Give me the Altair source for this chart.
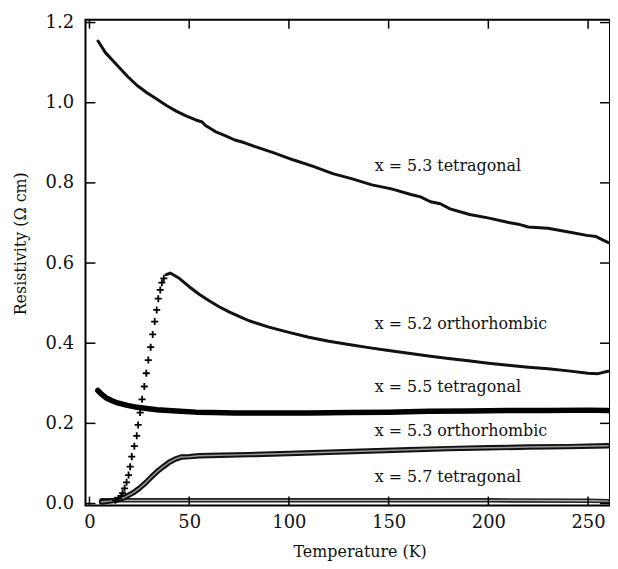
import altair as alt
import pandas as pd

FONT = "DejaVu Serif"

# x = 5.3 tetragonal
c1_T = [4.3, 8, 14.1, 19, 23.9, 28.8, 33.7, 38.6, 43.5, 48.4, 53.3, 56.5, 58, 63.1, 68, 72.9, 77.8, 82.7,
        92.5, 102.4, 112.2, 122, 131.8, 141.6, 151.4, 161.2, 166, 171, 175.9, 180.8, 190.6, 200.4,
        210.2, 215, 220, 229.8, 239.6, 249.4, 254, 257.3, 260.2]
c1_R = [1.154, 1.125, 1.092, 1.066, 1.043, 1.025, 1.009, 0.993, 0.979, 0.967, 0.957, 0.952, 0.944, 0.928,
        0.918, 0.907, 0.900, 0.891, 0.875, 0.857, 0.841, 0.823, 0.810, 0.795, 0.785, 0.771, 0.765,
        0.753, 0.748, 0.735, 0.721, 0.712, 0.701, 0.697, 0.690, 0.687, 0.678, 0.669, 0.666, 0.658, 0.651]

# x = 5.2 orthorhombic : sparse rising points below the peak
c2r_T = [13.0, 14.5, 15.9, 16.6, 17.6, 18.6, 19.6, 20.4, 21.2, 22.5, 23.7, 24.4, 25.4, 26.4, 27.5,
         28.5, 29.5, 30.7, 31.7, 32.7, 33.7, 34.5, 35.5, 36.3, 37.3]
c2r_R = [0.008, 0.012, 0.019, 0.026, 0.038, 0.053, 0.071, 0.092, 0.117, 0.143, 0.169, 0.196, 0.227,
         0.260, 0.292, 0.325, 0.358, 0.390, 0.422, 0.454, 0.483, 0.511, 0.533, 0.551, 0.562]
# x = 5.2 orthorhombic : dense part from the peak on
c2_T = [38.5, 40.5, 45, 50, 55, 60, 65, 70, 75, 80, 90, 100, 110, 120, 130, 140, 150, 160, 170, 180,
        190, 200, 210, 220, 230, 240, 250, 255, 260]
c2_R = [0.571, 0.575, 0.562, 0.541, 0.522, 0.506, 0.491, 0.478, 0.467, 0.456, 0.440, 0.427, 0.415,
        0.405, 0.397, 0.389, 0.382, 0.375, 0.368, 0.362, 0.356, 0.350, 0.345, 0.340, 0.336, 0.331,
        0.325, 0.324, 0.330]

# x = 5.5 tetragonal
c3_T = [4.2, 6, 8.2, 11, 14.1, 19, 23.9, 28.8, 33.7, 43.5, 53.3, 62, 72.9, 90, 110, 130, 150, 170,
        190, 210, 230, 250, 260]
c3_R = [0.282, 0.273, 0.264, 0.257, 0.251, 0.245, 0.240, 0.237, 0.234, 0.231, 0.228, 0.227, 0.226,
        0.226, 0.226, 0.227, 0.228, 0.230, 0.231, 0.232, 0.232, 0.233, 0.232]

# x = 5.3 orthorhombic
c4_T = [6, 8, 10, 13, 16, 19, 22, 25, 28, 31, 34, 36.5, 40, 43, 46, 50, 55, 60, 80, 100, 120, 140, 160,
        180, 200, 220, 240, 260]
c4_R = [0.004, 0.005, 0.006, 0.008, 0.012, 0.019, 0.027, 0.038, 0.051, 0.066, 0.080, 0.090, 0.103,
        0.111, 0.116, 0.117, 0.119, 0.120, 0.122, 0.125, 0.128, 0.131, 0.134, 0.137, 0.139, 0.141,
        0.142, 0.144]

# x = 5.7 tetragonal
c5_T = [6, 20, 50, 100, 150, 200, 250, 260]
c5_R = [0.008, 0.008, 0.008, 0.008, 0.008, 0.008, 0.007, 0.006]

labels = ["x = 5.3 tetragonal", "x = 5.2 orthorhombic", "x = 5.5 tetragonal",
          "x = 5.3 orthorhombic", "x = 5.7 tetragonal"]
label_T = [143, 143, 143, 143, 143]
label_R = [0.843, 0.448, 0.290, 0.180, 0.066]

x_ticks = [0, 50, 100, 150, 200, 250]
y_ticks = [0.0, 0.2, 0.4, 0.6, 0.8, 1.0, 1.2]

W, H = 528, 489

xscale = alt.Scale(domain=[-2, 261], nice=False, zero=False)
yscale = alt.Scale(domain=[-0.005, 1.207], nice=False, zero=False)
xaxis = alt.Axis(values=x_ticks, title="Temperature (K)", ticks=False, domain=False, grid=False,
                 labelFlush=False, labelOverlap=False, labelPadding=8, labelFontSize=18,
                 titleFontSize=16, titleX=276, titleY=51, titleBaseline="alphabetic")
yaxis = alt.Axis(values=y_ticks, title="Resistivity (Ω cm)", format=".1f", ticks=False, domain=False,
                 grid=False, labelFlush=False, labelOverlap=False, labelPadding=12, labelFontSize=18,
                 titleFontSize=16, titleX=-65, titleY=225, titleAngle=270, titleAlign="center",
                 titleBaseline="middle")


def X(f):
    return alt.X(f, type="quantitative", scale=xscale, axis=xaxis)


def Y(f):
    return alt.Y(f, type="quantitative", scale=yscale, axis=yaxis)


def df(T, R):
    return pd.DataFrame({"T": T, "R": R})


def line(T, R, width, color="#111111"):
    return alt.Chart(df(T, R)).mark_line(color=color, strokeWidth=width, strokeJoin="round",
                                         strokeCap="round", clip=True).encode(x=X("T"), y=Y("R"))


c1 = line(c1_T, c1_R, 3)
c2 = line(c2_T, c2_R, 3)
c2r = alt.Chart(df(c2r_T, c2r_R)).mark_point(
    shape="M-1,0L1,0M0,-1L0,1", size=50, filled=False, color="#000000", strokeWidth=1.8, opacity=1
).encode(x=X("T"), y=Y("R"))
c3 = line(c3_T, c3_R, 5.5, "#000000")
c4a = line(c4_T, c4_R, 5.5, "#111111")
c4b = line(c4_T, c4_R, 1.5, "#999999")
c5a = line(c5_T, c5_R, 4.5, "#222222")
c5b = line(c5_T, c5_R, 1.4, "#aaaaaa")

txt = alt.Chart(pd.DataFrame({"T": label_T, "R": label_R, "label": labels})).mark_text(
    align="left", baseline="middle", font=FONT, fontSize=16, color="#111111"
).encode(x=X("T"), y=Y("R"), text="label:N")

xt = pd.DataFrame({"T": x_ticks})
yt = pd.DataFrame({"R": y_ticks})
tick_top = alt.Chart(xt).mark_rule(color="black", strokeWidth=1.5).encode(
    x=X("T"), y=alt.value(0), y2=alt.value(9))
tick_bot = alt.Chart(xt).mark_rule(color="black", strokeWidth=1.5).encode(
    x=X("T"), y=alt.value(H), y2=alt.value(H - 9))
tick_left = alt.Chart(yt).mark_rule(color="black", strokeWidth=1.5).encode(
    y=Y("R"), x=alt.value(0), x2=alt.value(10))
tick_right = alt.Chart(yt).mark_rule(color="black", strokeWidth=1.5).encode(
    y=Y("R"), x=alt.value(W), x2=alt.value(W - 10))

chart = alt.layer(
    c5a, c5b, c4a, c4b, c3, c2, c2r, c1, txt, tick_top, tick_bot, tick_left, tick_right
).properties(
    width=W, height=H,
    autosize=alt.AutoSizeParams(type="none"),
    padding={"left": 78, "top": 10, "right": 0, "bottom": 54},
    background="white",
).configure_view(
    stroke="black", strokeWidth=2
).configure_axis(
    labelFont=FONT, titleFont=FONT, labelColor="#111111", titleColor="#111111",
    titleFontWeight="normal"
)

chart.save("out.html", embed_options={"renderer": "svg", "actions": False})
